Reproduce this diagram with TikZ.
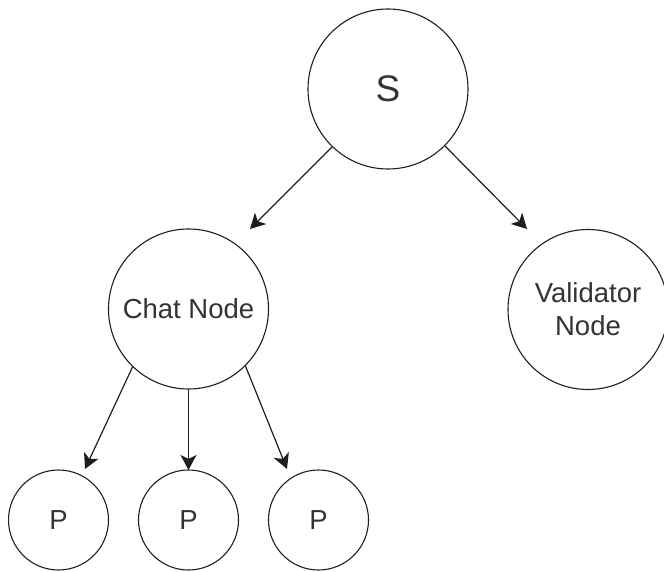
\documentclass[tikz,border=0pt]{standalone}
\usepackage{fontspec}
\setmainfont{Liberation Sans}
\usetikzlibrary{arrows.meta}
\definecolor{txt}{RGB}{51,51,51}
\definecolor{ink}{RGB}{30,30,30}
\tikzset{
  bigcirc/.style={circle, draw=ink, line width=1.1pt, minimum size=160pt, inner sep=0pt,
    text=txt, font=\fontsize{27.5}{33}\selectfont, align=center},
  smallcirc/.style={circle, draw=ink, line width=1.1pt, minimum size=100pt, inner sep=0pt,
    text=txt, font=\fontsize{27.5}{33}\selectfont},
  link/.style={draw=ink, line width=1.2pt, -{Stealth[length=15pt, width=16pt, inset=4pt]}}
}
\begin{document}
\begin{tikzpicture}[x=1pt, y=-1pt]
  \useasboundingbox (0,0) rectangle (664,572);
  % tree nodes
  \node[bigcirc, font=\fontsize{37}{40}\selectfont] (s) at (388,89) {S};
  \node[bigcirc] (chat) at (188.5,309) {Chat Node};
  \node[bigcirc] (val) at (588,309.5) {Validator\\Node};
  \node[smallcirc] (p1) at (58.5,520) {P};
  \node[smallcirc] (p2) at (188.5,520) {P};
  \node[smallcirc] (p3) at (318.5,520) {P};
  % arrow tips
  \coordinate (tchat) at (250,229);
  \coordinate (tval) at (527,229);
  \coordinate (tp1) at (85,469);
  \coordinate (tp2) at (188.5,470);
  \coordinate (tp3) at (287,469);
  % connectors
  \draw[link] (s.226) -- (tchat);
  \draw[link] (s.315) -- (tval);
  \draw[link] (chat.226) -- (tp1);
  \draw[link] (chat.south) -- (tp2);
  \draw[link] (chat.315) -- (tp3);
\end{tikzpicture}
\end{document}
